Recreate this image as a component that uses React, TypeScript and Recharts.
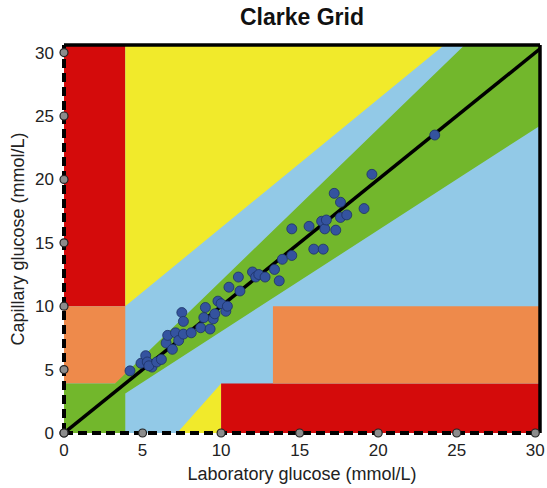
import React from "react";
import {
  Area,
  CartesianGrid,
  ComposedChart,
  Line,
  ReferenceLine,
  Scatter,
  XAxis,
  YAxis,
} from "recharts";

// axis limits (mmol/L)
const X_MAX = 30.3;
const Y_MAX = 30.6;
const ticks = [0, 5, 10, 15, 20, 25, 30];

// Clarke zones, each as a range [low, high] along x
const zoneEUpper = [
  { x: 0, r: [10, Y_MAX] },
  { x: 3.9, r: [10, Y_MAX] },
];
const zoneDLeft = [
  { x: 0, r: [3.9, 10] },
  { x: 3.9, r: [3.9, 10] },
];
const zoneCUpper = [
  { x: 3.9, r: [10, Y_MAX] },
  { x: 24.2, r: [Y_MAX, Y_MAX] },
];
const zoneA = [
  { x: 0, r: [0, 3.9] },
  { x: 3.25, r: [0, 3.9] },
  { x: 3.9, r: [0, 4.68] },
  { x: 3.9, r: [3.12, 4.68] },
  { x: 25.5, r: [20.4, Y_MAX] },
  { x: X_MAX, r: [24.24, Y_MAX] },
];
const zoneCLower = [
  { x: 7.2, r: [0, 0] },
  { x: 10, r: [0, 3.9] },
];
const zoneELower = [
  { x: 10, r: [0, 3.9] },
  { x: X_MAX, r: [0, 3.9] },
];
const zoneDRight = [
  { x: 13.3, r: [3.9, 10] },
  { x: X_MAX, r: [3.9, 10] },
];
const identity = [
  { x: 0, y: 0 },
  { x: X_MAX, y: X_MAX },
];

// laboratory vs capillary glucose readings
const samples = [
  { x: 4.2, y: 4.9 }, { x: 4.9, y: 5.5 }, { x: 5.2, y: 6.1 }, { x: 5.3, y: 5.6 },
  { x: 5.6, y: 5.2 }, { x: 5.4, y: 5.3 }, { x: 5.9, y: 5.6 }, { x: 6.2, y: 5.8 },
  { x: 6.5, y: 7.1 }, { x: 6.6, y: 7.7 }, { x: 6.9, y: 6.6 }, { x: 7.1, y: 7.9 },
  { x: 7.3, y: 7.3 }, { x: 7.5, y: 9.5 }, { x: 7.6, y: 8.8 }, { x: 7.6, y: 7.8 },
  { x: 8.1, y: 7.9 }, { x: 8.7, y: 8.3 }, { x: 8.9, y: 9.1 }, { x: 9.0, y: 9.9 },
  { x: 9.3, y: 8.2 }, { x: 9.5, y: 9.0 }, { x: 9.6, y: 9.4 }, { x: 9.8, y: 10.4 },
  { x: 10.0, y: 10.2 }, { x: 10.3, y: 9.6 }, { x: 10.4, y: 10.0 }, { x: 10.5, y: 11.5 },
  { x: 11.1, y: 12.3 }, { x: 11.2, y: 11.2 }, { x: 12.0, y: 12.7 }, { x: 12.2, y: 12.3 },
  { x: 12.4, y: 12.5 }, { x: 12.8, y: 12.3 }, { x: 13.4, y: 12.9 }, { x: 13.7, y: 12.0 },
  { x: 13.9, y: 13.7 }, { x: 14.5, y: 14.0 }, { x: 14.5, y: 16.1 }, { x: 15.6, y: 16.3 },
  { x: 15.9, y: 14.5 }, { x: 16.5, y: 14.5 }, { x: 16.4, y: 16.7 }, { x: 16.6, y: 16.1 },
  { x: 16.7, y: 16.8 }, { x: 17.3, y: 16.0 }, { x: 17.2, y: 18.9 }, { x: 17.6, y: 17.0 },
  { x: 17.6, y: 18.2 }, { x: 18.0, y: 17.2 }, { x: 19.1, y: 17.7 }, { x: 19.6, y: 20.4 },
  { x: 23.6, y: 23.5 },
];

const FONT = "'Liberation Sans', Arial, sans-serif";

const XTick = (props: any) => {
  const { x, y, payload } = props;
  return (
    <g>
      <circle cx={x} cy={y} r={4} fill="#8c8c8c" stroke="#222" strokeWidth={1.2} />
      <text x={x} y={y + 23} textAnchor="middle" fontSize={17} fill="#222" fontFamily={FONT}>
        {payload.value}
      </text>
    </g>
  );
};

const YTick = (props: any) => {
  const { x, y, payload } = props;
  return (
    <g>
      <circle cx={x} cy={y} r={4} fill="#8c8c8c" stroke="#222" strokeWidth={1.2} />
      <text x={x - 10} y={y + 6} textAnchor="end" fontSize={17} fill="#222" fontFamily={FONT}>
        {payload.value}
      </text>
    </g>
  );
};

const zone = (data: any[], fill: string, key: string) => (
  <Area
    key={key}
    data={data}
    dataKey="r"
    type="linear"
    stroke="none"
    fill={fill}
    fillOpacity={1}
    dot={false}
    activeDot={false}
    isAnimationActive={false}
  />
);

export default function App() {
  return (
    <div
      style={{
        position: "absolute",
        left: 0,
        top: 0,
        width: 547,
        height: 488,
        background: "#fff",
        fontFamily: FONT,
      }}
    >
      <div
        style={{
          position: "absolute",
          left: 64,
          width: 476,
          top: 3,
          textAlign: "center",
          fontSize: 23,
          fontWeight: "bold",
          color: "#111",
          lineHeight: "28px",
        }}
      >
        Clarke Grid
      </div>
      <ComposedChart
        width={547}
        height={488}
        margin={{ top: 45, right: 7, bottom: 0, left: 0 }}
      >
        <CartesianGrid horizontal={false} vertical={false} fill="#92c9e7" />
        <XAxis
          dataKey="x"
          type="number"
          domain={[0, X_MAX]}
          ticks={ticks}
          allowDataOverflow
          height={55}
          tickSize={0}
          tickMargin={0}
          tickLine={false}
          tick={<XTick />}
          axisLine={{ stroke: "#000", strokeWidth: 4, strokeDasharray: "9 5" }}
          label={{
            value: "Laboratory glucose (mmol/L)",
            position: "insideBottom",
            offset: 8,
            fontSize: 18,
            fill: "#222",
            fontFamily: FONT,
          }}
        />
        <YAxis
          dataKey="y"
          type="number"
          domain={[0, Y_MAX]}
          ticks={ticks}
          allowDataOverflow
          width={64}
          tickSize={0}
          tickMargin={0}
          tickLine={false}
          tick={<YTick />}
          axisLine={{ stroke: "#000", strokeWidth: 4, strokeDasharray: "9 5" }}
          label={{
            value: "Capillary glucose (mmol/L)",
            angle: -90,
            position: "insideLeft",
            offset: 18,
            fontSize: 18,
            fill: "#222",
            fontFamily: FONT,
            style: { textAnchor: "middle" },
          }}
        />
        {zone(zoneEUpper, "#d40b0b", "eu")}
        {zone(zoneDLeft, "#ee8a4b", "dl")}
        {zone(zoneCUpper, "#f1ea2b", "cu")}
        {zone(zoneCLower, "#f1ea2b", "cl")}
        {zone(zoneELower, "#d40b0b", "el")}
        {zone(zoneDRight, "#ee8a4b", "dr")}
        {zone(zoneA, "#72b72c", "a")}
        <Line
          data={identity}
          dataKey="y"
          type="linear"
          stroke="#000"
          strokeWidth={3.5}
          dot={false}
          activeDot={false}
          isAnimationActive={false}
        />
        <ReferenceLine y={Y_MAX} stroke="#000" strokeWidth={3.5} />
        <ReferenceLine x={X_MAX} stroke="#000" strokeWidth={3.5} />
        <Scatter
          data={samples}
          isAnimationActive={false}
          shape={(p: any) => (
            <circle cx={p.cx} cy={p.cy} r={5} fill="#34539f" stroke="#1d3266" strokeWidth={0.8} />
          )}
        />
      </ComposedChart>
    </div>
  );
}
